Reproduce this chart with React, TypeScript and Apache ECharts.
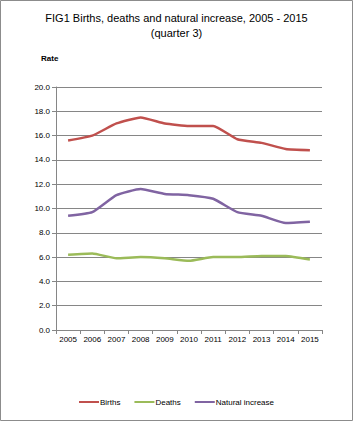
import React, { useEffect, useRef } from "react";
import * as echarts from "echarts";

const years = ["2005", "2006", "2007", "2008", "2009", "2010", "2011", "2012", "2013", "2014", "2015"];
const births = [15.6, 16.0, 17.0, 17.5, 17.0, 16.8, 16.8, 15.7, 15.4, 14.9, 14.8];
const deaths = [6.2, 6.3, 5.9, 6.0, 5.9, 5.7, 6.0, 6.0, 6.1, 6.1, 5.8];
const natural = [9.4, 9.7, 11.1, 11.6, 11.2, 11.1, 10.8, 9.7, 9.4, 8.8, 8.9];

const FONT = "'Liberation Sans', Arial, sans-serif";

export default function App() {
  const ref = useRef<HTMLDivElement>(null);
  useEffect(() => {
    document.body.style.margin = "0";
    const chart = echarts.init(ref.current!, undefined, { renderer: "svg" });
    const mk = (name: string, data: number[], color: string) => ({
      name,
      type: "line",
      data,
      symbol: "none",
      smooth: 0.15,
      lineStyle: { color, width: 2.5 },
      itemStyle: { color },
    });
    chart.setOption({
      animation: false,
      textStyle: { fontFamily: FONT },
      title: {
        text: "FIG1 Births, deaths and natural increase, 2005 - 2015\n(quarter 3)",
        left: "center",
        top: 5,
        textStyle: { fontSize: 11, fontWeight: "normal", color: "#000", lineHeight: 15, fontFamily: FONT },
      },
      graphic: [
        { type: "rect", shape: { x: 0.5, y: 0.5, width: 352, height: 420 }, style: { fill: "none", stroke: "#8c8c8c", lineWidth: 1 } },
        { type: "text", x: 41, y: 54, style: { text: "Rate", fontSize: 8, fontWeight: "bold", fill: "#000", fontFamily: FONT } },
      ],
      grid: { left: 56, right: 31, top: 87, bottom: 91 },
      legend: {
        bottom: 10,
        left: "center",
        itemWidth: 20,
        itemHeight: 2,
        itemGap: 14,
        icon: "rect",
        textStyle: { fontSize: 8, color: "#000", fontFamily: FONT, padding: [0, 0, 0, -4] },
        data: ["Births", "Deaths", "Natural increase"],
      },
      xAxis: {
        type: "category",
        data: years,
        boundaryGap: true,
        axisLine: { lineStyle: { color: "#868686" } },
        axisTick: { show: true, length: 4, lineStyle: { color: "#868686" }, interval: 0 },
        axisLabel: { fontSize: 8, color: "#000", interval: 0, margin: 5, fontFamily: FONT },
      },
      yAxis: {
        type: "value",
        min: 0,
        max: 20,
        interval: 2,
        axisLine: { show: true, lineStyle: { color: "#868686" } },
        axisTick: { show: true, length: 4, lineStyle: { color: "#868686" } },
        axisLabel: { fontSize: 8, color: "#000", margin: 6, formatter: (v: number) => v.toFixed(1), fontFamily: FONT },
        splitLine: { lineStyle: { color: "#868686", width: 1 } },
      },
      series: [
        mk("Births", births, "#c0504d"),
        mk("Deaths", deaths, "#9bbb59"),
        mk("Natural increase", natural, "#8064a2"),
      ],
    });
    return () => chart.dispose();
  }, []);
  return <div ref={ref} style={{ width: 353, height: 421 }} />;
}
